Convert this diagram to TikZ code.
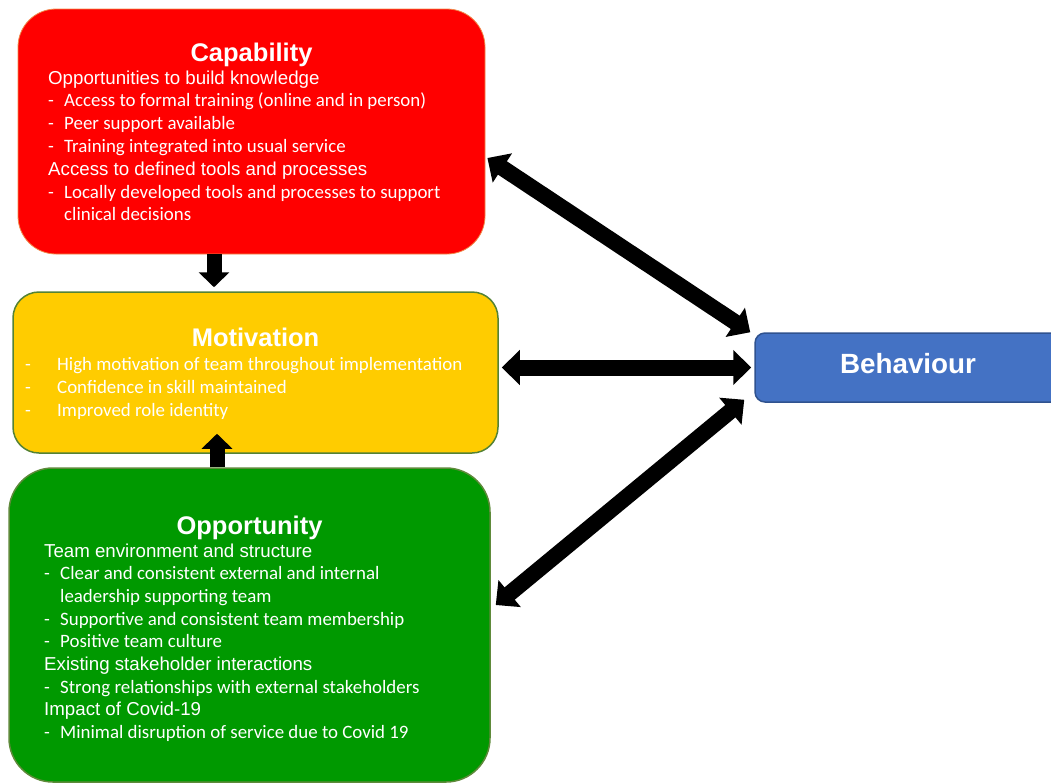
\documentclass[tikz,border=0pt]{standalone}
\usepackage{fontspec}
\setmainfont{Liberation Sans}
\newfontfamily\calibri{Carlito}
\usetikzlibrary{arrows.meta,calc}
\definecolor{capfill}{HTML}{FF0000}
\definecolor{capline}{HTML}{F08A4B}
\definecolor{motfill}{HTML}{FFCC00}
\definecolor{motline}{HTML}{548235}
\definecolor{oppfill}{HTML}{009900}
\definecolor{oppline}{HTML}{5E8A3A}
\definecolor{behfill}{HTML}{4472C4}
\definecolor{behline}{HTML}{2F528F}
\newcommand\bul[2]{{\calibri\fontsize{18.9}{22.8}\selectfont\makebox[#1][l]{-}#2}}
\newcommand\cont[2]{{\calibri\fontsize{18.9}{22.8}\selectfont\hspace*{#1}#2}}
\begin{document}
\begin{tikzpicture}[x=1pt,y=-1pt,
  box/.style={rectangle,rounded corners=#1,inner sep=0pt},
  head/.style={anchor=base,inner sep=0pt,text=white,font=\bfseries\fontsize{25.5}{30}\selectfont},
  txt/.style={anchor=base west,align=left,inner sep=0pt,text=white},
  varr/.style={line width=15pt,-{Triangle[width=30pt,length=15pt]}},
  darr/.style={line width=16pt,{Triangle[width=34pt,length=18pt]}-{Triangle[width=34pt,length=18pt]}}
]
\clip (0,0) rectangle (1051,782);
% boxes
\node[box=38pt,fill=capfill,draw=capline,line width=0.8pt,minimum width=467pt,minimum height=245pt] (cap) at (251.5,131.5) {};
\node[box=26pt,fill=motfill,draw=motline,line width=1.5pt,minimum width=485pt,minimum height=161pt] (mot) at (255.5,372.5) {};
\node[box=44pt,fill=oppfill,draw=oppline,line width=1.5pt,minimum width=481pt,minimum height=314pt] (opp) at (249.5,625) {};
\node[box=10pt,fill=behfill,draw=behline,line width=1.5pt,minimum width=306pt,minimum height=69pt] (beh) at (908,367.5) {};
% headings
\node[head] (caph) at (251.5,61) {Capability};
\node[head] (moth) at (255.5,346.7) {Motivation};
\node[head] (opph) at (249.5,534) {Opportunity};
\node[head,font=\bfseries\fontsize{27.8}{32}\selectfont] (behh) at (908,373.5) {Behaviour};
% texts (anchored at the baseline of their last line)
\node[txt,font=\fontsize{18.7}{22.8}\selectfont] (capt) at (48,220.8) {Opportunities to build knowledge\\
\bul{16pt}{Access to formal training (online and in person)}\\
\bul{16pt}{Peer support available}\\
\bul{16pt}{Training integrated into usual service}\\
Access to defined tools and processes\\
\bul{16pt}{Locally developed tools and processes to support}\\
\cont{16pt}{clinical decisions}};
\node[txt,font=\fontsize{18.7}{23}\selectfont] (mott) at (25,416) {\bul{32pt}{High motivation of team throughout implementation}\\
\bul{32pt}{Confidence in skill maintained}\\
\bul{32pt}{Improved role identity}};
\node[txt,font=\fontsize{18.7}{22.7}\selectfont] (oppt) at (44,738.6) {Team environment and structure\\
\bul{16pt}{Clear and consistent external and internal}\\
\cont{16pt}{leadership supporting team}\\
\bul{16pt}{Supportive and consistent team membership}\\
\bul{16pt}{Positive team culture}\\
Existing stakeholder interactions\\
\bul{16pt}{Strong relationships with external stakeholders}\\
Impact of Covid-19\\
\bul{16pt}{Minimal disruption of service due to Covid 19}};
% arrows
\draw[varr] ($(cap.south)+(-37.5,0)$) -- ($(mot.north)+(-41.5,-4)$);
\draw[varr] ($(opp.north)+(-32.5,0)$) -- ($(mot.south)+(-38.5,-20)$);
\draw[darr] ($(cap.east)+(2,26.5)$) -- ($(beh.north west)+(-4,0)$);
\draw[darr] ($(beh.west -| mot.east)+(3,0)$) -- ($(beh.west)+(-3,0)$);
\draw[darr] ($(opp.east)+(5,-20)$) -- ($(beh.south west)+(-10,-3)$);
\end{tikzpicture}
\end{document}
